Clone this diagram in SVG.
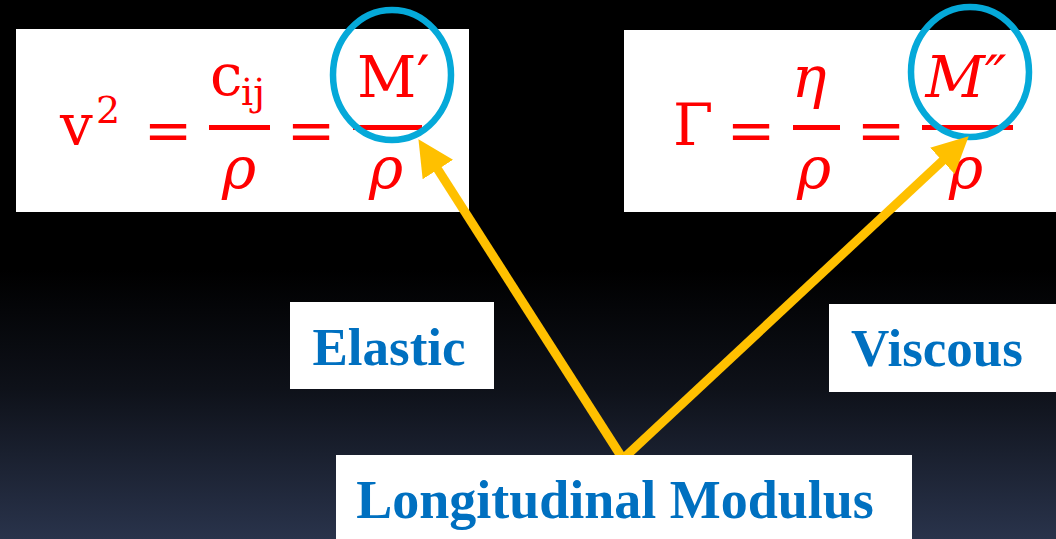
<svg xmlns="http://www.w3.org/2000/svg" width="1056" height="539" viewBox="0 0 1056 539">
<defs>
<linearGradient id="bg" x1="0" y1="0" x2="0" y2="1">
<stop offset="0" stop-color="#000000"/>
<stop offset="0.5" stop-color="#000000"/>
<stop offset="0.72" stop-color="#0e1119"/>
<stop offset="1" stop-color="#29334b"/>
</linearGradient>
<marker id="ah" markerUnits="userSpaceOnUse" markerWidth="36" markerHeight="36" viewBox="0 0 36 36" refX="1" refY="18" orient="auto">
<path d="M0,0 L36,18 L0,36 z" fill="#FFC000"/>
</marker>
<style>
.box{fill:#ffffff}
.eq{font-family:"DejaVu Serif","Liberation Serif",serif;fill:#ff0000;font-size:58px}
.sm{font-size:38px}
.it{font-style:italic}
.bar{fill:#ff0000}
.ring{fill:none;stroke:#05A9D9;stroke-width:6.5}
.lbl{font-family:"Liberation Serif","DejaVu Serif",serif;font-weight:bold;fill:#0070C0;font-size:53px;text-anchor:middle}
.arrow{stroke:#FFC000;stroke-width:9;fill:none;marker-end:url(#ah)}
</style>
</defs>
<rect x="0" y="0" width="1056" height="539" fill="url(#bg)"/>
<g id="eq-elastic">
<rect class="box" x="16" y="29" width="453" height="183"/>
<text class="eq" x="60" y="145">v</text>
<text class="eq sm" x="96" y="123">2</text>
<text class="eq" x="168" y="150" text-anchor="middle">=</text>
<text class="eq" x="210" y="95">c</text>
<text class="eq sm" x="241" y="105">ij</text>
<rect class="bar" x="209" y="125" width="61" height="5"/>
<text class="eq it" x="239" y="188" text-anchor="middle">ρ</text>
<text class="eq" x="311" y="150" text-anchor="middle">=</text>
<rect class="bar" x="353" y="125" width="69" height="5"/>
<text class="eq" x="357" y="97">M′</text>
<text class="eq it" x="386" y="188" text-anchor="middle">ρ</text>
<ellipse class="ring" cx="392" cy="75" rx="59" ry="65"/>
</g>
<g id="eq-viscous">
<rect class="box" x="624" y="30" width="432" height="182"/>
<text class="eq" x="693" y="145" text-anchor="middle">Γ</text>
<text class="eq" x="751" y="150" text-anchor="middle">=</text>
<text class="eq it" x="809" y="97" text-anchor="middle">η</text>
<rect class="bar" x="793" y="125" width="47" height="5"/>
<text class="eq it" x="814" y="188" text-anchor="middle">ρ</text>
<text class="eq" x="881" y="150" text-anchor="middle">=</text>
<rect class="bar" x="922" y="125" width="91" height="5"/>
<text class="eq it" x="966" y="97" text-anchor="middle">M″</text>
<text class="eq it" x="966" y="188" text-anchor="middle">ρ</text>
<ellipse class="ring" cx="970" cy="72" rx="59" ry="65"/>
</g>
<g id="elastic">
<rect class="box" x="290" y="302" width="204" height="87"/>
<text class="lbl" x="389" y="365">Elastic</text>
</g>
<g id="viscous">
<rect class="box" x="829" y="304" width="227" height="88"/>
<text class="lbl" x="937" y="366">Viscous</text>
</g>
<g id="connectors">
<line class="arrow" x1="621" y1="456" x2="437.3" y2="168.7"/>
<line class="arrow" x1="625" y1="457" x2="943.1" y2="160.2"/>
</g>
<g id="longitudinal">
<rect class="box" x="336" y="455" width="576" height="84"/>
<text class="lbl" x="615" y="518" style="font-size:54px">Longitudinal Modulus</text>
</g>
</svg>
